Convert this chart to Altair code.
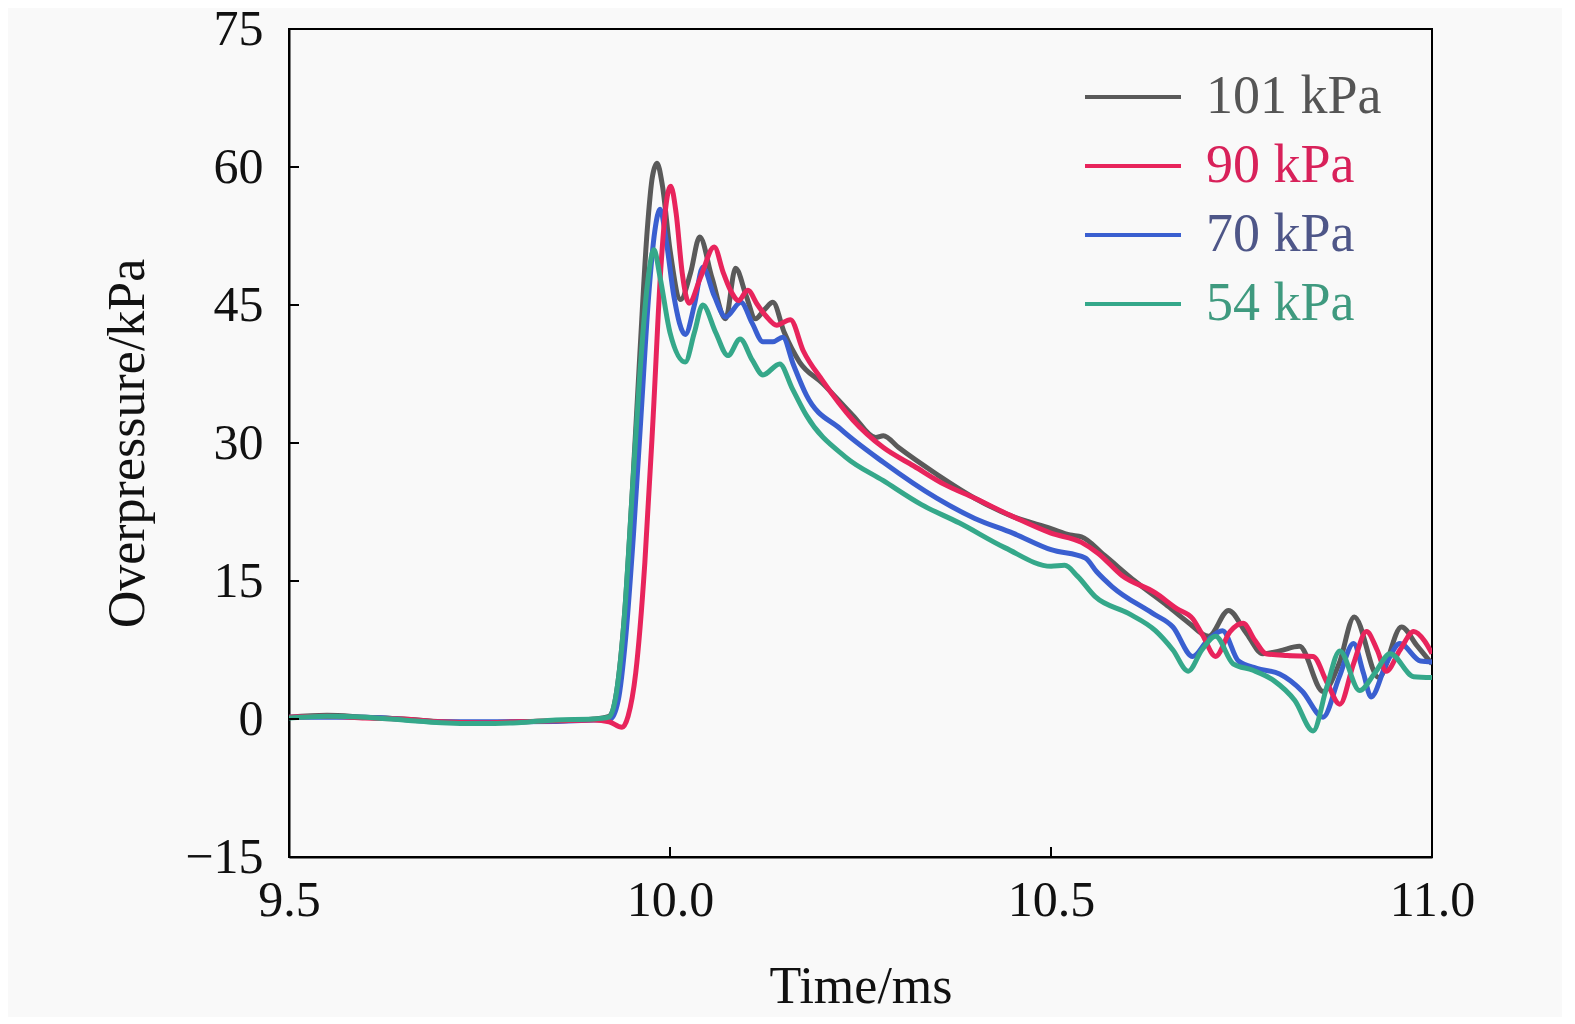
import altair as alt
import pandas as pd

# ---- data (time in ms, overpressure in kPa) ----
series_names = ["101 kPa", "70 kPa", "90 kPa", "54 kPa"]
legend_order = ["101 kPa", "90 kPa", "70 kPa", "54 kPa"]
line_colors = ["#5a5a5a", "#e8245c", "#3a5fd0", "#35a88a"]

s101 = [(9.50, 0.2), (9.55, 0.4), (9.60, 0.2), (9.65, 0.0), (9.70, -0.3), (9.75, -0.4),
        (9.80, -0.3), (9.85, -0.2), (9.90, 0.0), (9.92, 0.3), (9.93, 3), (9.94, 11),
        (9.95, 24), (9.96, 39), (9.97, 53), (9.977, 59), (9.983, 60.4), (9.99, 58),
        (10.00, 51), (10.014, 45.6), (10.027, 48.5), (10.039, 52.4), (10.055, 48),
        (10.073, 43.5), (10.086, 49.0), (10.10, 46), (10.112, 43.5), (10.124, 44.5),
        (10.135, 45.3), (10.15, 42), (10.17, 38.8), (10.20, 36.5), (10.24, 33),
        (10.27, 30.6), (10.28, 30.8), (10.30, 29.5), (10.35, 26.6), (10.40, 24),
        (10.45, 22), (10.50, 20.7), (10.525, 20.0), (10.54, 19.8), (10.57, 17.8),
        (10.61, 15), (10.65, 12.5), (10.68, 10.5), (10.707, 9.0), (10.733, 11.8),
        (10.755, 9.5), (10.778, 7.1), (10.80, 7.4), (10.826, 7.9), (10.857, 3.0),
        (10.878, 6.0), (10.898, 11.1), (10.93, 4.5), (10.96, 10.0), (10.98, 8.0),
        (11.0, 6.0)]

s90 = [(9.50, 0.2), (9.55, 0.3), (9.60, 0.1), (9.65, 0.0), (9.70, -0.3), (9.75, -0.4),
       (9.80, -0.3), (9.85, -0.2), (9.90, -0.1), (9.92, -0.3), (9.937, -0.9), (9.945, 0.3),
       (9.955, 5), (9.967, 17), (9.978, 33), (9.988, 49), (9.995, 56), (10.001, 57.9),
       (10.008, 55), (10.016, 48.5), (10.025, 45.2), (10.04, 48), (10.058, 51.3),
       (10.07, 48.5), (10.08, 46.5), (10.09, 45.5), (10.102, 46.6), (10.115, 45),
       (10.126, 43.8), (10.14, 42.8), (10.158, 43.4), (10.175, 40), (10.20, 36.8),
       (10.24, 32.5), (10.28, 29.5), (10.32, 27.5), (10.36, 25.5), (10.40, 24),
       (10.45, 22), (10.50, 20.2), (10.54, 19.2), (10.562, 18.0), (10.593, 15.6),
       (10.637, 13.7), (10.665, 12), (10.686, 10.9), (10.699, 9.1), (10.716, 6.8),
       (10.735, 9.5), (10.752, 10.4), (10.768, 8.5), (10.782, 7.1), (10.81, 6.9),
       (10.844, 6.8), (10.862, 4), (10.879, 1.6), (10.897, 6), (10.914, 9.5),
       (10.928, 7.5), (10.94, 5.2), (10.958, 7.5), (10.976, 9.5), (10.99, 8.5),
       (11.0, 7.1)]

s70 = [(9.50, 0.2), (9.60, 0.2), (9.70, -0.3), (9.80, -0.3), (9.90, -0.1), (9.922, 0),
       (9.932, 2), (9.942, 9), (9.952, 20), (9.962, 33), (9.972, 46), (9.98, 53),
       (9.987, 55.4), (9.995, 52), (10.005, 46), (10.02, 41.8), (10.032, 45),
       (10.043, 49.1), (10.058, 46), (10.073, 43.7), (10.093, 45.3), (10.108, 43),
       (10.122, 41), (10.135, 41), (10.148, 41.5), (10.162, 38.5), (10.179, 35.2),
       (10.224, 31.5), (10.28, 27.9), (10.35, 24), (10.40, 21.8), (10.45, 20.2),
       (10.50, 18.4), (10.545, 17.5), (10.56, 16), (10.58, 14.4), (10.633, 11.5),
       (10.66, 10.0), (10.686, 6.8), (10.705, 8.5), (10.725, 9.6), (10.746, 6.3),
       (10.77, 5.5), (10.80, 4.9), (10.83, 3), (10.857, 0.2), (10.878, 4.5),
       (10.897, 8.2), (10.91, 5), (10.92, 2.4), (10.94, 6), (10.958, 8.2),
       (10.985, 6.3), (11.0, 6.2)]

s54 = [(9.50, 0.1), (9.55, 0.3), (9.60, 0.2), (9.65, -0.1), (9.70, -0.4), (9.75, -0.5),
       (9.80, -0.4), (9.85, -0.1), (9.90, 0.0), (9.92, 0.2), (9.93, 3), (9.94, 11),
       (9.95, 24), (9.96, 37), (9.97, 47), (9.979, 51), (9.987, 48), (10.0, 42),
       (10.02, 38.8), (10.032, 42), (10.043, 45), (10.06, 42), (10.076, 39.5),
       (10.092, 41.3), (10.108, 39), (10.122, 37.4), (10.144, 38.6), (10.16, 36),
       (10.179, 33), (10.23, 28.5), (10.28, 25.9), (10.33, 23.3), (10.38, 21.3),
       (10.44, 18.6), (10.50, 16.6), (10.518, 16.7), (10.535, 15.5), (10.558, 13.3),
       (10.601, 11.5), (10.637, 9.6), (10.66, 7.5), (10.68, 5.2), (10.698, 7.5),
       (10.716, 9.0), (10.739, 6.0), (10.765, 5.3), (10.792, 4.2), (10.82, 2),
       (10.844, -1.3), (10.862, 3.5), (10.879, 7.4), (10.905, 3.1), (10.925, 5),
       (10.945, 7.1), (10.976, 4.6), (11.0, 4.5)]

x_ticks = [9.5, 10.0, 10.5, 11.0]
y_ticks = [-15, 0, 15, 30, 45, 60, 75]

# ---- build the long table ----
rows = []
for name, pts in zip(series_names, [s101, s70, s90, s54]):
    for i, (t, p) in enumerate(pts):
        rows.append({"Time": t, "Overpressure": p, "Series": name, "i": i})
df = pd.DataFrame(rows)

FONT = "Liberation Serif"
W, H = 1143, 828

label_expr = ("datum.label == '90 kPa' ? '#d8215a' : datum.label == '70 kPa' ? '#4e5688' : "
              "datum.label == '54 kPa' ? '#3f9a7f' : '#555555'")

x_axis = alt.Axis(values=x_ticks, format=".1f", title="Time/ms", ticks=False,
                  grid=False, labelPadding=18, titlePadding=36, labelFlush=False)
y_axis = alt.Axis(values=y_ticks, title="Overpressure/kPa", ticks=False,
                  grid=False, labelPadding=26, titlePadding=30, labelFlush=False)
x_scale = alt.Scale(domain=[9.5, 11.0], nice=False)
y_scale = alt.Scale(domain=[-15, 75], nice=False)

lines = alt.Chart(df).mark_line(strokeWidth=5, interpolate="monotone", clip=True).encode(
    x=alt.X("Time:Q", scale=x_scale, axis=x_axis),
    y=alt.Y("Overpressure:Q", scale=y_scale, axis=y_axis),
    color=alt.Color("Series:N",
                    scale=alt.Scale(domain=legend_order, range=line_colors),
                    sort=legend_order,
                    legend=alt.Legend(title=None, orient="none", legendX=817, legendY=41,
                                      symbolType="M-2,0L2,0", symbolSize=2304,
                                      symbolStrokeWidth=4, labelFontSize=54,
                                      labelFont=FONT, labelOffset=46, rowPadding=15,
                                      padding=0, labelLimit=500,
                                      labelColor=alt.ExprRef(label_expr))),
    order="i:Q",
)

xt = pd.DataFrame({"Time": x_ticks})
yt = pd.DataFrame({"Overpressure": y_ticks})

x_tick_marks = alt.Chart(xt).mark_rule(color="black", strokeWidth=2).encode(
    x=alt.X("Time:Q", scale=x_scale, axis=x_axis), y=alt.value(H), y2=alt.value(H - 10))
y_tick_marks = alt.Chart(yt).mark_rule(color="black", strokeWidth=2).encode(
    y=alt.Y("Overpressure:Q", scale=y_scale, axis=y_axis), x=alt.value(0), x2=alt.value(10))

chart = alt.layer(lines, x_tick_marks, y_tick_marks).properties(
    width=W, height=H,
    autosize=alt.AutoSizeParams(type="none"),
    padding={"left": 281, "top": 21, "right": 130, "bottom": 160},
    background="#f9f9f9",
).configure_view(
    stroke="black", strokeWidth=2
).configure_axis(
    domainColor="black", domainWidth=2,
    labelFont=FONT, titleFont=FONT, labelFontSize=50, titleFontSize=52,
    labelColor="#111111", titleColor="#111111", titleFontWeight="normal",
)

chart.save("out.html", embed_options={"renderer": "svg", "actions": False})
